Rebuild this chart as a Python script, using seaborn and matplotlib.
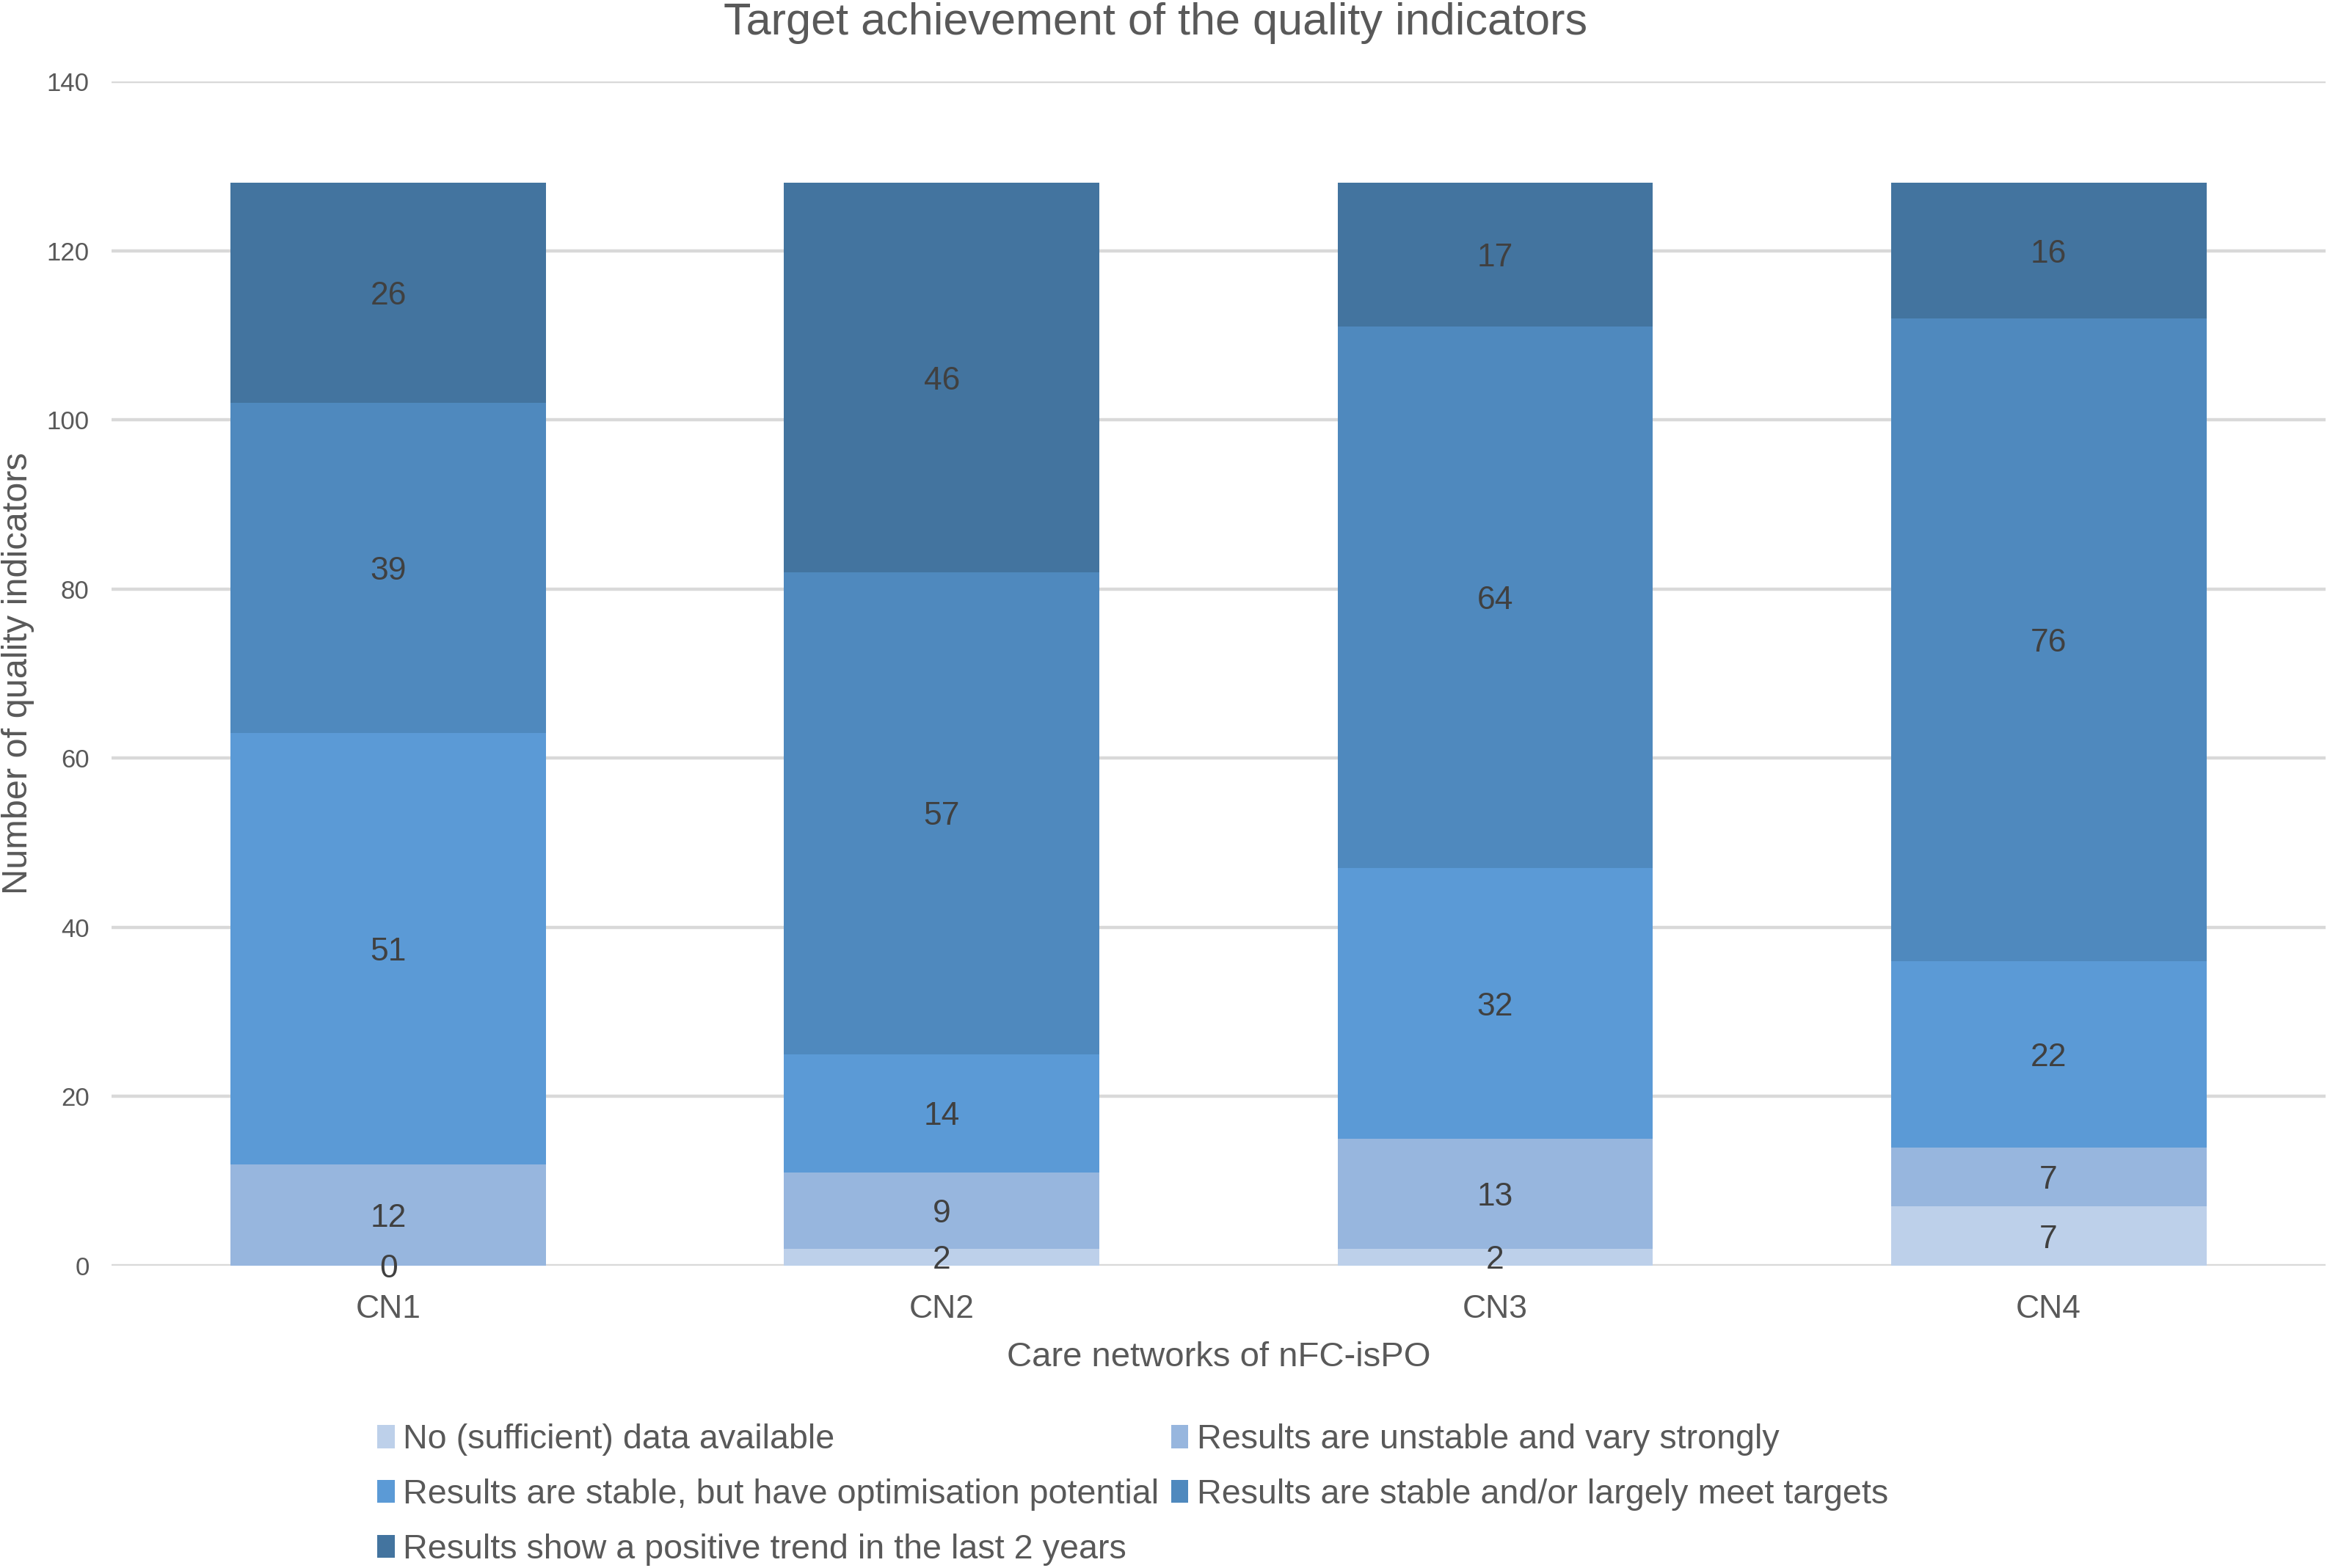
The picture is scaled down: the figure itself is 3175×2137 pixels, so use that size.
import matplotlib
matplotlib.use("Agg")
import matplotlib.pyplot as plt
import seaborn as sns
import pandas as pd
import numpy as np
from matplotlib.patches import Patch

networks = ["CN1", "CN2", "CN3", "CN4"]
categories = [
    "No (sufficient) data available",
    "Results are unstable and vary strongly",
    "Results are stable, but have optimisation potential",
    "Results are stable and/or largely meet targets",
    "Results show a positive trend in the last 2 years",
]
no_data = [0, 2, 2, 7]
unstable = [12, 9, 13, 7]
optimisation = [51, 14, 32, 22]
meet_targets = [39, 57, 64, 76]
positive_trend = [26, 46, 17, 16]
colors = ["#BDD0EA", "#97B6DE", "#5B9AD6", "#4F89BE", "#43749F"]

series = [no_data, unstable, optimisation, meet_targets, positive_trend]

sns.set_theme(style="white")
plt.rcParams["font.family"] = ["Liberation Sans", "DejaVu Sans"]

fig = plt.figure(figsize=(15.875, 10.685), dpi=200)
ax = fig.add_axes([0.0479, 0.1928, 0.998 - 0.0479, 0.948 - 0.1928])

vals = np.array(series, dtype=float)
cum = np.cumsum(vals, axis=0)

# draw from top (largest cumulative) to bottom so each layer overlaps
for i in range(len(categories) - 1, -1, -1):
    df = pd.DataFrame({"network": networks, "value": cum[i]})
    sns.barplot(data=df, x="network", y="value", color=colors[i], width=0.57,
                saturation=1, edgecolor="none", linewidth=0, ax=ax, zorder=2)

label_color = "#404040"
for i in range(len(categories)):
    for j, net in enumerate(networks):
        v = vals[i, j]
        center = cum[i, j] - v / 2
        ax.text(j, center, f"{int(v)}", ha="center", va="center_baseline",
                fontsize=16, color=label_color, zorder=5)

ax.set_ylim(0, 140)
ax.set_xlim(-0.5, 3.5)
ax.set_yticks(np.arange(0, 141, 20))
ax.yaxis.grid(True, color="#D9D9D9", linewidth=1.6, zorder=0)
ax.set_axisbelow(True)
for s in ["top", "right", "left", "bottom"]:
    ax.spines[s].set_visible(False)
ax.tick_params(axis="y", length=0, pad=11, labelsize=12.5, labelcolor="#595959")
ax.tick_params(axis="x", length=0, pad=14, labelsize=16, labelcolor="#595959")
ax.set_xlabel("Care networks of nFC-isPO", fontsize=17, color="#595959", labelpad=8.5)
ax.set_ylabel("Number of quality indicators", fontsize=17.5, color="#595959", va="center")
ax.yaxis.set_label_coords(-0.0424, 0.5)

fig.text(0.496, 1 - 47 / 2137, "Target achievement of the quality indicators",
         ha="center", va="baseline", fontsize=22, color="#595959")

handles = [Patch(facecolor=c, edgecolor="none") for c in colors]
order = [0, 2, 4, 1, 3]
leg = fig.legend([handles[k] for k in order], [categories[k] for k in order],
                 ncol=2, loc="upper left", bbox_to_anchor=(0.162, 0.092),
                 frameon=False, fontsize=16.8, handlelength=0.5, handleheight=0.65,
                 handletextpad=0.25, columnspacing=0.35, labelspacing=0.66,
                 borderaxespad=0, borderpad=0)
for t in leg.get_texts():
    t.set_color("#595959")

fig.savefig("out.png", dpi=200, facecolor="white")
